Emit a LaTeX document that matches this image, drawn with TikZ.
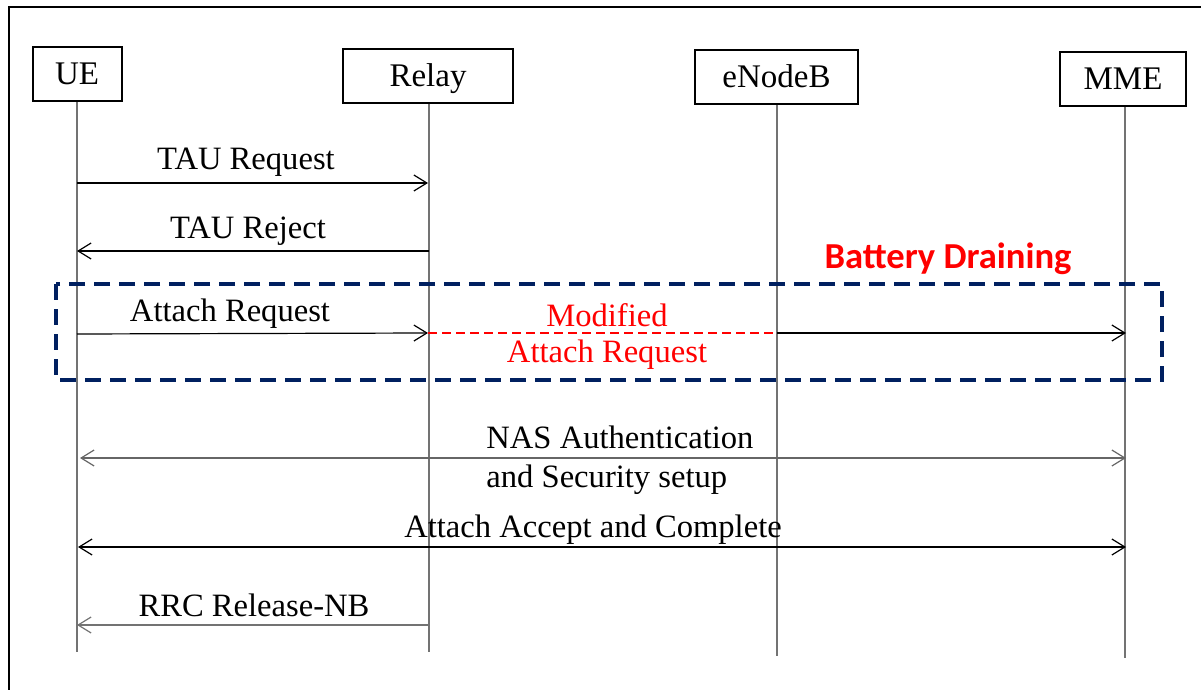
\documentclass[tikz,border=0pt]{standalone}
\usepackage{fontspec}
\setmainfont{Liberation Serif}
\newfontfamily\calibri{Carlito}
\usetikzlibrary{arrows.meta}

\begin{document}
\begin{tikzpicture}[x=0.5pt,y=-0.5pt,
  entity/.style={draw,line width=1pt,minimum height=27pt,inner sep=0pt,text height=10.5pt,text depth=0pt,font=\fontsize{16.5}{18}\selectfont},
  lifeline/.style={draw=black!55,line width=0.6pt},
  msg/.style={line width=0.6pt,-{Straight Barb[length=6.5pt,width=8pt]}},
  twoway/.style={draw=black!60,line width=0.6pt,{Straight Barb[length=6.5pt,width=8pt]}-{Straight Barb[length=6.5pt,width=8pt]}},
  lbl/.style={font=\fontsize{16.3}{19.5}\selectfont,inner sep=0pt}]
\useasboundingbox (0,0) rectangle (1201,690);
\draw[line width=1pt] (9,690) -- (9,7) -- (1201,7);
% participants
\node[entity,minimum width=44.5pt] (ue)  at (77,74)    {UE};
\node[entity,minimum width=85pt]   (rel) at (428,76)   {Relay};
\node[entity,minimum width=81.5pt] (enb) at (776.5,77) {eNodeB};
\node[entity,minimum width=63pt]   (mme) at (1123,79)  {MME};
% lifelines
\coordinate (ueend)  at (77,652);
\coordinate (relend) at (429,652);
\coordinate (enbend) at (777,656);
\coordinate (mmeend) at (1125,658);
\draw[lifeline] (ue.south) -- (ueend);
\draw[lifeline] (rel.south -| relend) -- (relend);
\draw[lifeline] (enb.south -| enbend) -- (enbend);
\draw[lifeline] (mme.south -| mmeend) -- (mmeend);
% message end points
\coordinate (ua) at (77,183);  \coordinate (ra) at (428,183);
\coordinate (ub) at (77,251);  \coordinate (rb) at (429,251);
\coordinate (uc) at (77,334);  \coordinate (rc) at (428,333);
\coordinate (ec) at (777,333); \coordinate (mc) at (1126,333);
\coordinate (ud) at (80,458);  \coordinate (md) at (1126,458);
\coordinate (ue2) at (78,547); \coordinate (me) at (1126,547);
\coordinate (uf) at (77,625);  \coordinate (rf) at (429,625);
% messages
\draw[msg] (ua) -- (ra);
\draw[msg] (rb) -- (ub);
\draw[msg] (uc) -- (rc);
\draw[red,line width=0.8pt,dash pattern=on 4.5pt off 2.5pt] (rc) -- (ec);
\draw[msg] (ec) -- (mc);
\draw[twoway] (ud) -- (md);
\draw[twoway,draw=black] (ue2) -- (me);
\draw[msg,draw=black!55] (rf) -- (uf);
\node[lbl] (tau1) at (246,162) {TAU Request};
\node[lbl] (tau2) at (248,231) {TAU Reject};
\node[lbl] (att1) at (230,314) {Attach Request};
\node[lbl,red] (mod1) at (607,315) {Modified};
\node[lbl,red] (mod2) at (607,355) {Attach Request};
\node[lbl,align=left,anchor=west] (nas) at (486,460) {NAS Authentication\\and Security setup};
\node[lbl] (acc) at (593,530) {Attach Accept and Complete};
\node[lbl] (rrc) at (254,605) {RRC Release-NB};
% attack region
\node[font=\calibri\bfseries\fontsize{18.3}{20}\selectfont,text=red,inner sep=0pt] (bat) at (948,259) {Battery Draining};
\draw[draw={rgb,255:red,0;green,32;blue,96},line width=2pt,dash pattern=on 8pt off 4.5pt]
  (56,284) rectangle (1162,380);
\end{tikzpicture}
\end{document}
